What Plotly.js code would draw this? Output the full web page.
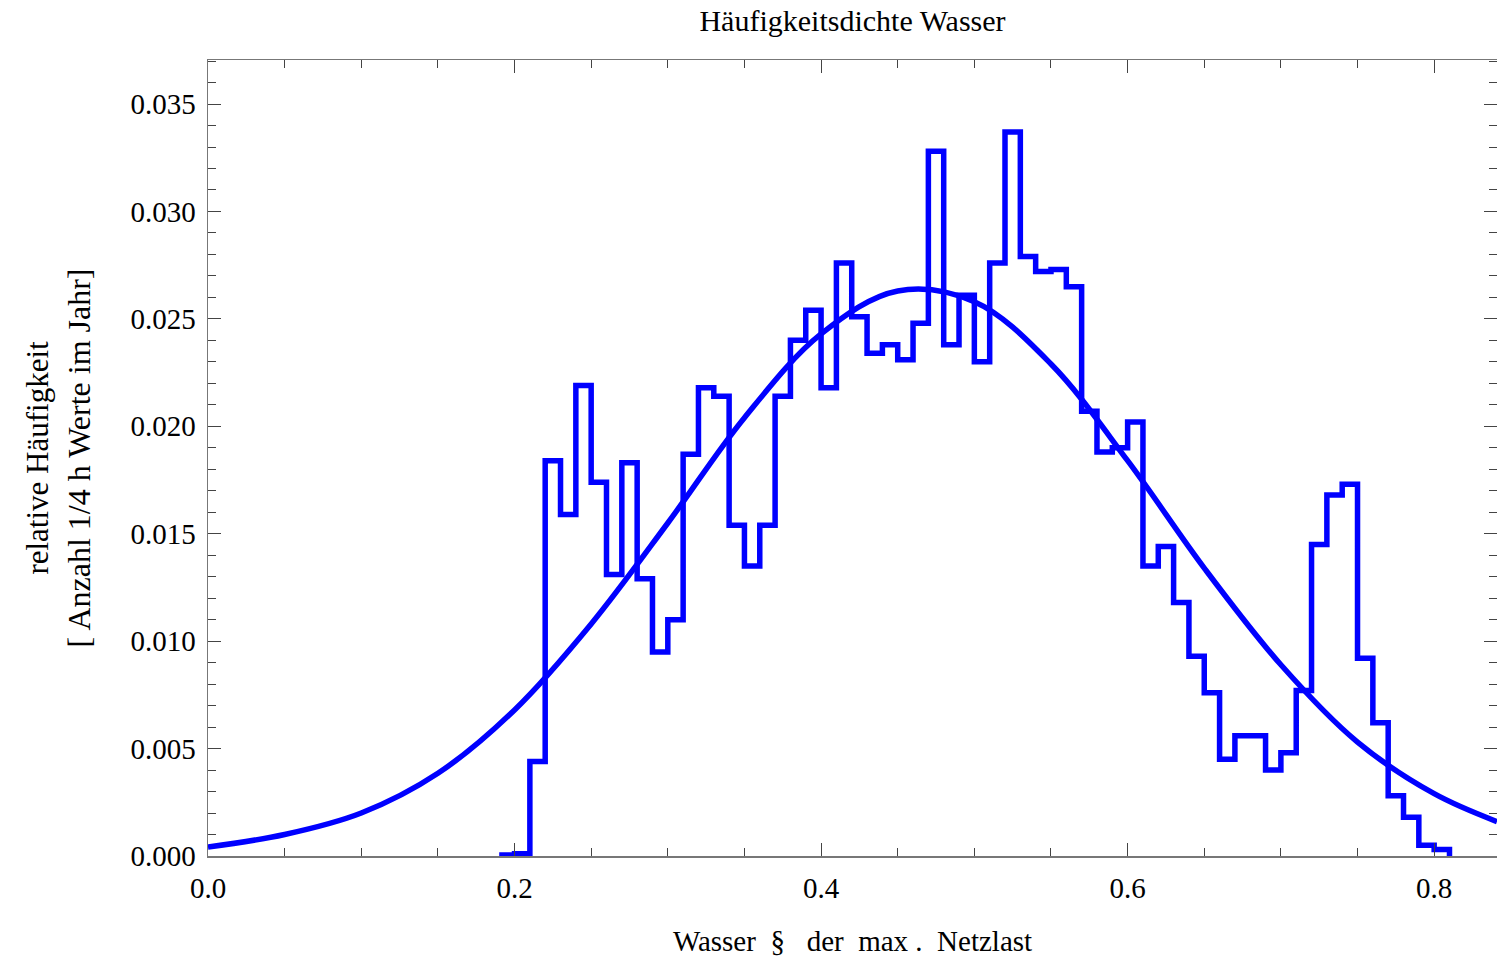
<!DOCTYPE html>
<html>
<head>
<meta charset="utf-8">
<script src="https://cdn.plot.ly/plotly-3.0.1.min.js"></script>
<style>html,body{margin:0;padding:0;background:#fff;}#chart{width:1497px;height:962px;}</style>
</head>
<body>
<div id="chart"></div>
<script>
// Histogram bin edges (left edges + final right edge)
const binEdges = [0.19,0.20,0.21,0.22,0.23,0.24,0.25,0.26,0.27,0.28,0.29,
  0.30,0.31,0.32,0.33,0.34,0.35,0.36,0.37,0.38,0.39,
  0.40,0.41,0.42,0.43,0.44,0.45,0.46,0.47,0.48,0.49,
  0.50,0.51,0.52,0.53,0.54,0.55,0.56,0.57,0.58,0.59,
  0.60,0.61,0.62,0.63,0.64,0.65,0.66,0.67,0.68,0.69,
  0.70,0.71,0.72,0.73,0.74,0.75,0.76,0.77,0.78,0.79,
  0.80,0.81];
// Relative frequency per bin
const binValues = [0.00005,0.0001,0.0044,0.0184,0.0159,0.0219,0.0174,0.0131,0.0183,0.0129,
  0.0095,0.0110,0.0187,0.0218,0.0214,0.0154,0.0135,0.0154,0.0214,0.0240,
  0.0254,0.0218,0.0276,0.0251,0.0234,0.0238,0.0231,0.0248,0.0328,0.0238,
  0.0261,0.0230,0.0276,0.0337,0.0279,0.0272,0.0273,0.0265,0.0207,0.0188,
  0.0190,0.0202,0.0135,0.0144,0.0118,0.0093,0.0076,0.0045,0.0056,0.0056,
  0.0040,0.0048,0.0077,0.0145,0.0168,0.0173,0.0092,0.0062,0.0028,0.0018,
  0.0005,0.0003];
// Fitted density curve
const curveX = [0,0.05,0.10,0.15,0.20,0.25,0.30,0.35,0.40,0.45,0.50,0.55,0.60,0.65,0.70,0.75,0.80,0.841];
const curveY = [0.00042,0.00100,0.00200,0.00385,0.0068,0.0108,0.0155,0.0204,0.0243,0.0263,0.0258,0.0229,0.0184,0.0134,0.0089,0.0053,0.0029,0.0016];

const titleText = "Häufigkeitsdichte Wasser";
const xTitle = "Wasser  §   der  max .  Netzlast";
const yTitle = "<span style='font-size:31px'>relative Häufigkeit</span><br>[ Anzahl 1/4 h Werte im Jahr]";

const stepY = binValues.concat([0]);

const traces = [
  {x: binEdges, y: stepY, type: 'scatter', mode: 'lines',
   line: {shape: 'hv', color: '#0000ff', width: 5.5}, hoverinfo: 'skip'},
  {x: curveX, y: curveY, type: 'scatter', mode: 'lines',
   line: {shape: 'spline', smoothing: 1, color: '#0000ff', width: 5.5}, hoverinfo: 'skip'}
];

const font = {family: 'Liberation Serif, Times New Roman, serif', color: '#000'};

const layout = {
  width: 1497, height: 962,
  margin: {l: 208, r: 0, t: 60, b: 106},
  paper_bgcolor: '#fff', plot_bgcolor: '#fff',
  showlegend: false,
  font: Object.assign({size: 28}, font),
  title: {text: titleText, font: Object.assign({size: 30}, font),
          x: 0.5, xref: 'paper', xanchor: 'center', y: 0.979, yref: 'container', yanchor: 'middle'},
  xaxis: {
    range: [0, 0.841], showgrid: false, zeroline: false,
    showline: true, linecolor: '#777', linewidth: 1.5, mirror: 'ticks',
    ticks: 'inside', ticklen: 13, tickwidth: 1, tickcolor: '#444',
    tick0: 0, dtick: 0.2, tickformat: '.1f', ticklabelstandoff: 6,
    tickfont: Object.assign({size: 29}, font),
    minor: {dtick: 0.05, ticks: 'inside', ticklen: 8, tickwidth: 1, tickcolor: '#444', showgrid: false},
    title: {text: xTitle, font: Object.assign({size: 29}, font), standoff: 27}
  },
  yaxis: {
    range: [0, 0.03705], showgrid: false, zeroline: false,
    showline: true, linecolor: '#777', linewidth: 1.5, mirror: 'ticks',
    ticks: 'inside', ticklen: 13, tickwidth: 1, tickcolor: '#444',
    tick0: 0, dtick: 0.005, tickformat: '.3f', ticklabelstandoff: 5,
    tickfont: Object.assign({size: 29}, font),
    minor: {dtick: 0.001, ticks: 'inside', ticklen: 8, tickwidth: 1, tickcolor: '#444', showgrid: false},
    title: {text: yTitle, font: Object.assign({size: 32}, font), standoff: 30}
  }
};

Plotly.newPlot('chart', traces, layout, {staticPlot: true, displayModeBar: false});
</script>
</body>
</html>
